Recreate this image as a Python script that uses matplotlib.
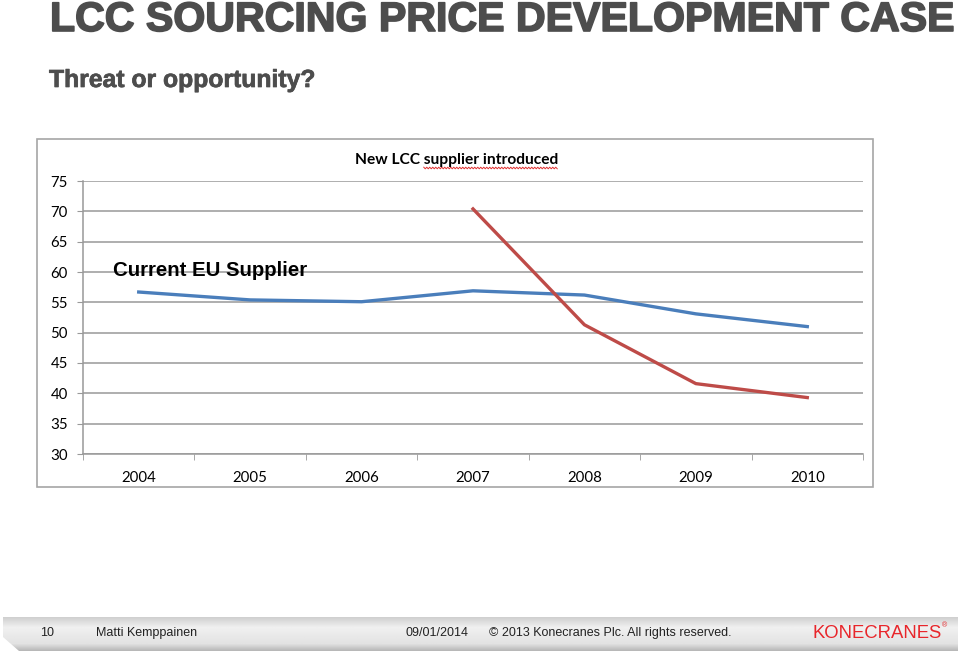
import matplotlib.pyplot as plt
import matplotlib.patheffects as pe
import numpy as np
from matplotlib.patches import Polygon, Rectangle

# data
years = ['2004', '2005', '2006', '2007', '2008', '2009', '2010']
eu_supplier = [56.7, 55.4, 55.1, 56.9, 56.2, 53.1, 51.0]
lcc_years = ['2007', '2008', '2009', '2010']
lcc_supplier = [70.4, 51.3, 41.6, 39.3]
y_ticks = [30, 35, 40, 45, 50, 55, 60, 65, 70, 75]

W, H = 960, 652
fig = plt.figure(figsize=(9.6, 6.52), dpi=100)
fig.patch.set_facecolor('white')


def fx(px):
    return px / W


def fy(py):
    return 1 - py / H


grey = '#4d4d4d'
fig.text(fx(50), fy(31), 'LCC SOURCING PRICE DEVELOPMENT CASE', fontsize=29.6,
         fontweight='bold', color=grey, family='Liberation Sans', va='baseline',
         path_effects=[pe.withStroke(linewidth=1.2, foreground=grey)])
fig.text(fx(49), fy(87), 'Threat or opportunity?', fontsize=17.8,
         fontweight='bold', color=grey, family='Liberation Sans', va='baseline',
         path_effects=[pe.withStroke(linewidth=0.5, foreground=grey)])

# chart frame
fig.patches.append(Rectangle((fx(37), fy(487)), fx(873) - fx(37), fy(139) - fy(487),
                             transform=fig.transFigure, fill=False,
                             edgecolor='#a6a6a6', linewidth=1.2))

ax = fig.add_axes([fx(83), fy(454), fx(863) - fx(83), fy(181) - fy(454)])
x_all = np.arange(len(years))
x_lcc = [years.index(y) for y in lcc_years]

ax.plot(x_all, eu_supplier, color='#4a7ebb', linewidth=2.4, solid_joinstyle='round')
ax.plot(x_lcc, lcc_supplier, color='#be4b48', linewidth=2.4, solid_joinstyle='round')

ax.set_xlim(-0.5, len(years) - 0.5)
ax.set_ylim(30, 75)
ax.set_yticks(y_ticks)
ax.set_yticklabels([str(v) for v in y_ticks], family='Lato', fontsize=10.8)
ax.yaxis.grid(True, color='#999999', linewidth=1.1)
ax.set_axisbelow(True)
ax.tick_params(axis='y', length=4, color='#999999', pad=7)

ax.set_xticks(x_all)
ax.set_xticklabels(years, family='Lato', fontsize=10.8)
ax.tick_params(axis='x', length=0, pad=12)
ax.set_xticks(np.arange(-0.5, len(years)), minor=True)
ax.tick_params(axis='x', which='minor', length=4, color='#999999', direction='out')

for side in ['top', 'right']:
    ax.spines[side].set_visible(False)
for side in ['left', 'bottom']:
    ax.spines[side].set_color('#999999')
    ax.spines[side].set_linewidth(1.1)

note_font = dict(fontsize=11.2, fontweight='bold', family='Lato')
note = fig.text(fx(355), fy(160), 'New LCC supplier introduced', va='center',
                ha='left', **note_font)
fig.text(fx(113), fy(271), 'Current EU Supplier', fontsize=14.7,
         fontweight='bold', family='Liberation Sans', va='center', ha='left')

# red spell-check squiggle under "supplier introduced"
fig.canvas.draw()
renderer = fig.canvas.get_renderer()


def text_width(s):
    t = fig.text(0, 0, s, **note_font)
    w = t.get_window_extent(renderer).width
    t.remove()
    return w


x_start = 355 + text_width('New LCC ')
x_end = 355 + text_width('New LCC supplier introduced')
wx = np.arange(x_start, x_end, 1.5)
wy = 168 + np.where(np.arange(len(wx)) % 2 == 0, -0.8, 0.8)
fig.add_artist(plt.Line2D(fx(wx), fy(wy), color='#e03030', linewidth=0.7,
                          transform=fig.transFigure))

# footer bar with a metal gradient
bar = Polygon([(fx(3), fy(617)), (fx(958), fy(617)), (fx(958), fy(651)),
               (fx(19), fy(651)), (fx(3), fy(637))], closed=True,
              transform=fig.transFigure, facecolor='none', edgecolor='none')
fig.patches.append(bar)
grad_ax = fig.add_axes([0, 0, 1, 1], zorder=-1)
grad_ax.set_axis_off()
shade = np.concatenate([np.linspace(0.80, 0.94, 12), np.linspace(0.94, 0.89, 16),
                        np.linspace(0.89, 0.72, 8)])[:, None] * np.ones((1, 50))
im = grad_ax.imshow(shade, cmap='gray', vmin=0, vmax=1, aspect='auto',
                    extent=[fx(3), fx(958), fy(651), fy(617)],
                    transform=fig.transFigure)
im.set_clip_path(bar)
grad_ax.set_xlim(0, 1)
grad_ax.set_ylim(0, 1)

foot = dict(fontsize=9, family='Liberation Sans', color='#222222', va='center')
fig.text(fx(40), fy(633), '10', **foot)
fig.text(fx(96), fy(633), 'Matti Kemppainen', **foot)
fig.text(fx(405), fy(633), '09/01/2014', **foot)
fig.text(fx(489), fy(633), '\u00a9 2013 Konecranes Plc. All rights reserved.', **foot)
fig.text(fx(812), fy(633), 'KONECRANES', fontsize=13.3, family='Liberation Sans',
         color='#e8262b', va='center')
fig.text(fx(942), fy(626), '\u00ae', fontsize=5, family='Liberation Sans',
         color='#e8262b', va='center')

fig.savefig('out.png', dpi=100)
